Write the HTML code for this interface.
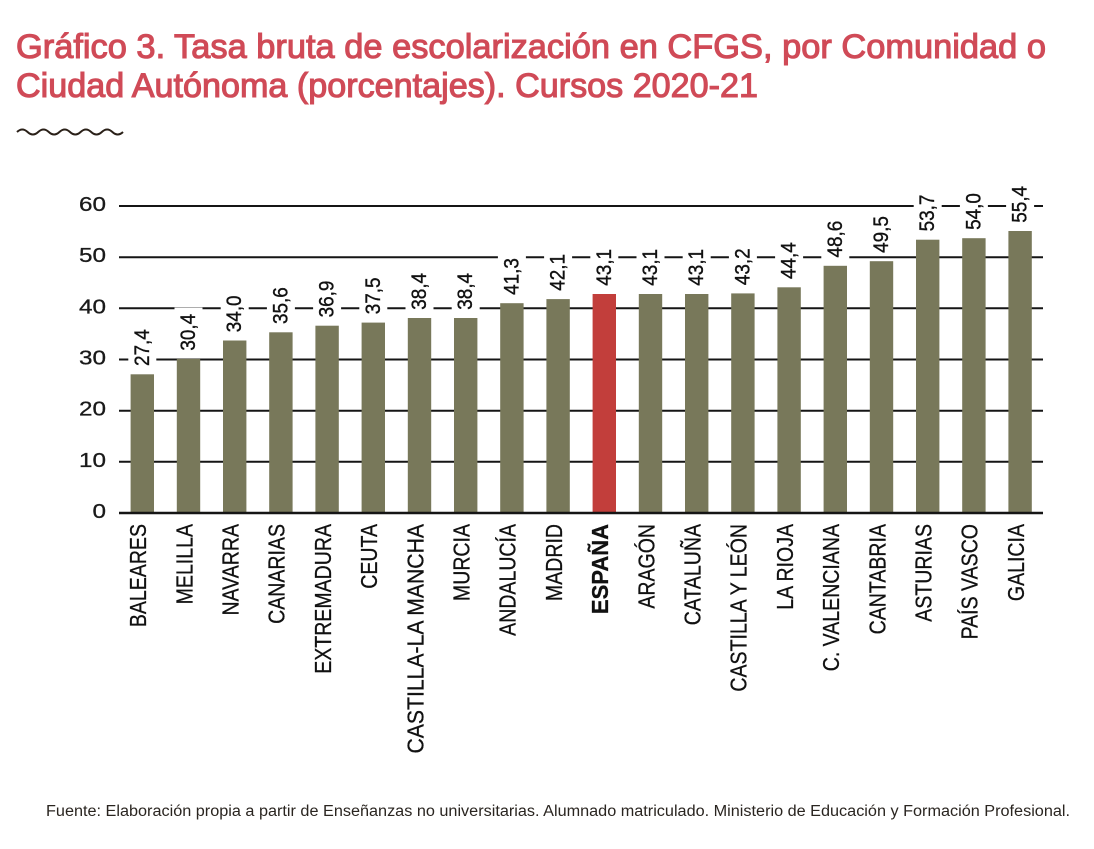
<!DOCTYPE html>
<html>
<head>
<meta charset="utf-8">
<style>
  html,body{margin:0;padding:0;background:#fff;}
  svg{display:block;}
  text{font-family:"Liberation Sans", Arial, sans-serif;}
</style>
</head>
<body>
<svg width="1094" height="849" viewBox="0 0 1094 849" xmlns="http://www.w3.org/2000/svg">
  <rect x="0" y="0" width="1094" height="849" fill="#fff"/>

  <!-- Title -->
  <g fill="#d04a57" stroke="#d04a57" stroke-width="1.1" font-size="34">
    <text x="16" y="58" textLength="1030" lengthAdjust="spacingAndGlyphs">Gráfico 3.  Tasa bruta de escolarización en CFGS,  por Comunidad o</text>
    <text x="16" y="97" textLength="742" lengthAdjust="spacingAndGlyphs">Ciudad Autónoma (porcentajes). Cursos 2020-21</text>
  </g>

  <!-- wavy line -->
  <path d="M17,132 q5.3,-5 10.6,0 t10.6,0 t10.6,0 t10.6,0 t10.6,0 t10.6,0 t10.6,0 t10.6,0 t10.6,0 t10.6,0" fill="none" stroke="#2a2018" stroke-width="2"/>

  <!-- Gridlines -->
  <g stroke="#151515" stroke-width="2">
    <line x1="119" y1="206" x2="1043" y2="206"/>
    <line x1="119" y1="257.2" x2="1043" y2="257.2"/>
    <line x1="119" y1="308.3" x2="1043" y2="308.3"/>
    <line x1="119" y1="359.5" x2="1043" y2="359.5"/>
    <line x1="119" y1="410.7" x2="1043" y2="410.7"/>
    <line x1="119" y1="461.8" x2="1043" y2="461.8"/>
  </g>

  <!-- Y axis labels -->
  <g fill="#1a1a1a" font-size="20.5" text-anchor="end" stroke="#1a1a1a" stroke-width="0.3">
    <text x="106" y="211" textLength="27" lengthAdjust="spacingAndGlyphs">60</text>
    <text x="106" y="262.2" textLength="27" lengthAdjust="spacingAndGlyphs">50</text>
    <text x="106" y="313.3" textLength="27" lengthAdjust="spacingAndGlyphs">40</text>
    <text x="106" y="364.5" textLength="27" lengthAdjust="spacingAndGlyphs">30</text>
    <text x="106" y="415.7" textLength="27" lengthAdjust="spacingAndGlyphs">20</text>
    <text x="106" y="466.8" textLength="27" lengthAdjust="spacingAndGlyphs">10</text>
    <text x="106" y="518" textLength="13.5" lengthAdjust="spacingAndGlyphs">0</text>
  </g>

  <!-- white boxes behind value labels -->
  <g fill="#fff">
    <rect x="128.3" y="323" width="28" height="46"/>
    <rect x="174.5" y="307.6" width="28" height="46"/>
    <rect x="220.7" y="289.2" width="28" height="46"/>
    <rect x="266.9" y="281" width="28" height="46"/>
    <rect x="313.1" y="274.4" width="28" height="46"/>
    <rect x="359.3" y="271.3" width="28" height="46"/>
    <rect x="405.5" y="266.7" width="28" height="46"/>
    <rect x="451.7" y="266.7" width="28" height="46"/>
    <rect x="497.9" y="251.9" width="28" height="46"/>
    <rect x="544.1" y="247.8" width="28" height="46"/>
    <rect x="590.3" y="242.7" width="28" height="46"/>
    <rect x="636.5" y="242.7" width="28" height="46"/>
    <rect x="682.7" y="242.7" width="28" height="46"/>
    <rect x="728.9" y="242.1" width="28" height="46"/>
    <rect x="775.1" y="236" width="28" height="46"/>
    <rect x="821.3" y="214.5" width="28" height="46"/>
    <rect x="867.5" y="209.9" width="28" height="46"/>
    <rect x="913.7" y="188.4" width="28" height="46"/>
    <rect x="959.9" y="186.9" width="28" height="46"/>
    <rect x="1006.1" y="179.7" width="28" height="46"/>
  </g>

  <!-- Bars -->
  <g fill="#78785a">
    <rect x="130.6" y="374.3" width="23.4" height="138.7"/>
    <rect x="176.8" y="358.9" width="23.4" height="154.1"/>
    <rect x="223.0" y="340.5" width="23.4" height="172.5"/>
    <rect x="269.2" y="332.3" width="23.4" height="180.7"/>
    <rect x="315.4" y="325.7" width="23.4" height="187.3"/>
    <rect x="361.6" y="322.6" width="23.4" height="190.4"/>
    <rect x="407.8" y="318.0" width="23.4" height="195.0"/>
    <rect x="454.0" y="318.0" width="23.4" height="195.0"/>
    <rect x="500.2" y="303.2" width="23.4" height="209.8"/>
    <rect x="546.4" y="299.1" width="23.4" height="213.9"/>
    <rect x="638.8" y="294.0" width="23.4" height="219.0"/>
    <rect x="685.0" y="294.0" width="23.4" height="219.0"/>
    <rect x="731.2" y="293.4" width="23.4" height="219.6"/>
    <rect x="777.4" y="287.3" width="23.4" height="225.7"/>
    <rect x="823.6" y="265.8" width="23.4" height="247.2"/>
    <rect x="869.8" y="261.2" width="23.4" height="251.8"/>
    <rect x="916.0" y="239.7" width="23.4" height="273.3"/>
    <rect x="962.2" y="238.2" width="23.4" height="274.8"/>
    <rect x="1008.4" y="231.0" width="23.4" height="282.0"/>
  </g>
  <rect x="592.6" y="294.0" width="23.4" height="219.0" fill="#c23e3b"/>

  <!-- zero line -->
  <line x1="119" y1="513" x2="1043" y2="513" stroke="#151515" stroke-width="2.4"/>

  <!-- Value labels -->
  <g fill="#111" font-size="21" stroke="#111" stroke-width="0.35">
    <text transform="translate(148.8,366) rotate(-90) scale(0.9,1)">27,4</text>
    <text transform="translate(195,350.6) rotate(-90) scale(0.9,1)">30,4</text>
    <text transform="translate(241.2,332.2) rotate(-90) scale(0.9,1)">34,0</text>
    <text transform="translate(287.4,324) rotate(-90) scale(0.9,1)">35,6</text>
    <text transform="translate(333.6,317.4) rotate(-90) scale(0.9,1)">36,9</text>
    <text transform="translate(379.8,314.3) rotate(-90) scale(0.9,1)">37,5</text>
    <text transform="translate(426,309.7) rotate(-90) scale(0.9,1)">38,4</text>
    <text transform="translate(472.2,309.7) rotate(-90) scale(0.9,1)">38,4</text>
    <text transform="translate(518.4,294.9) rotate(-90) scale(0.9,1)">41,3</text>
    <text transform="translate(564.6,290.8) rotate(-90) scale(0.9,1)">42,1</text>
    <text transform="translate(610.8,285.7) rotate(-90) scale(0.9,1)">43,1</text>
    <text transform="translate(657,285.7) rotate(-90) scale(0.9,1)">43,1</text>
    <text transform="translate(703.2,285.7) rotate(-90) scale(0.9,1)">43,1</text>
    <text transform="translate(749.4,285.1) rotate(-90) scale(0.9,1)">43,2</text>
    <text transform="translate(795.6,279) rotate(-90) scale(0.9,1)">44,4</text>
    <text transform="translate(841.8,257.5) rotate(-90) scale(0.9,1)">48,6</text>
    <text transform="translate(888,252.9) rotate(-90) scale(0.9,1)">49,5</text>
    <text transform="translate(934.2,231.4) rotate(-90) scale(0.9,1)">53,7</text>
    <text transform="translate(980.4,229.9) rotate(-90) scale(0.9,1)">54,0</text>
    <text transform="translate(1026.6,222.7) rotate(-90) scale(0.9,1)">55,4</text>
  </g>

  <!-- X labels -->
  <g fill="#111" font-size="23" text-anchor="end" stroke="#111" stroke-width="0.3">
    <text transform="translate(146.1,524) rotate(-90) scale(0.85,1)">BALEARES</text>
    <text transform="translate(192.3,524) rotate(-90) scale(0.85,1)">MELILLA</text>
    <text transform="translate(238.5,524) rotate(-90) scale(0.85,1)">NAVARRA</text>
    <text transform="translate(284.7,524) rotate(-90) scale(0.85,1)">CANARIAS</text>
    <text transform="translate(330.9,524) rotate(-90) scale(0.85,1)">EXTREMADURA</text>
    <text transform="translate(377.1,524) rotate(-90) scale(0.85,1)">CEUTA</text>
    <text transform="translate(423.3,524) rotate(-90) scale(0.85,1)" textLength="270" lengthAdjust="spacingAndGlyphs">CASTILLA-LA MANCHA</text>
    <text transform="translate(469.5,524) rotate(-90) scale(0.85,1)">MURCIA</text>
    <text transform="translate(515.7,524) rotate(-90) scale(0.85,1)">ANDALUCÍA</text>
    <text transform="translate(561.9,524) rotate(-90) scale(0.85,1)">MADRID</text>
    <text transform="translate(608.1,524) rotate(-90) scale(0.85,1)" font-weight="bold" textLength="106" lengthAdjust="spacingAndGlyphs">ESPAÑA</text>
    <text transform="translate(654.3,524) rotate(-90) scale(0.85,1)">ARAGÓN</text>
    <text transform="translate(700.5,524) rotate(-90) scale(0.85,1)">CATALUÑA</text>
    <text transform="translate(746.7,524) rotate(-90) scale(0.85,1)">CASTILLA Y LEÓN</text>
    <text transform="translate(792.9,524) rotate(-90) scale(0.85,1)">LA RIOJA</text>
    <text transform="translate(839.1,524) rotate(-90) scale(0.85,1)">C. VALENCIANA</text>
    <text transform="translate(885.3,524) rotate(-90) scale(0.85,1)">CANTABRIA</text>
    <text transform="translate(931.5,524) rotate(-90) scale(0.85,1)">ASTURIAS</text>
    <text transform="translate(977.7,524) rotate(-90) scale(0.85,1)">PAÍS VASCO</text>
    <text transform="translate(1023.9,524) rotate(-90) scale(0.85,1)">GALICIA</text>
  </g>

  <!-- Footer -->
  <text x="46" y="816" font-size="15.5" fill="#2a2520" textLength="1024" lengthAdjust="spacingAndGlyphs">Fuente: Elaboración propia a partir de Enseñanzas no universitarias. Alumnado matriculado. Ministerio de Educación y Formación  Profesional.</text>
</svg>
</body>
</html>
